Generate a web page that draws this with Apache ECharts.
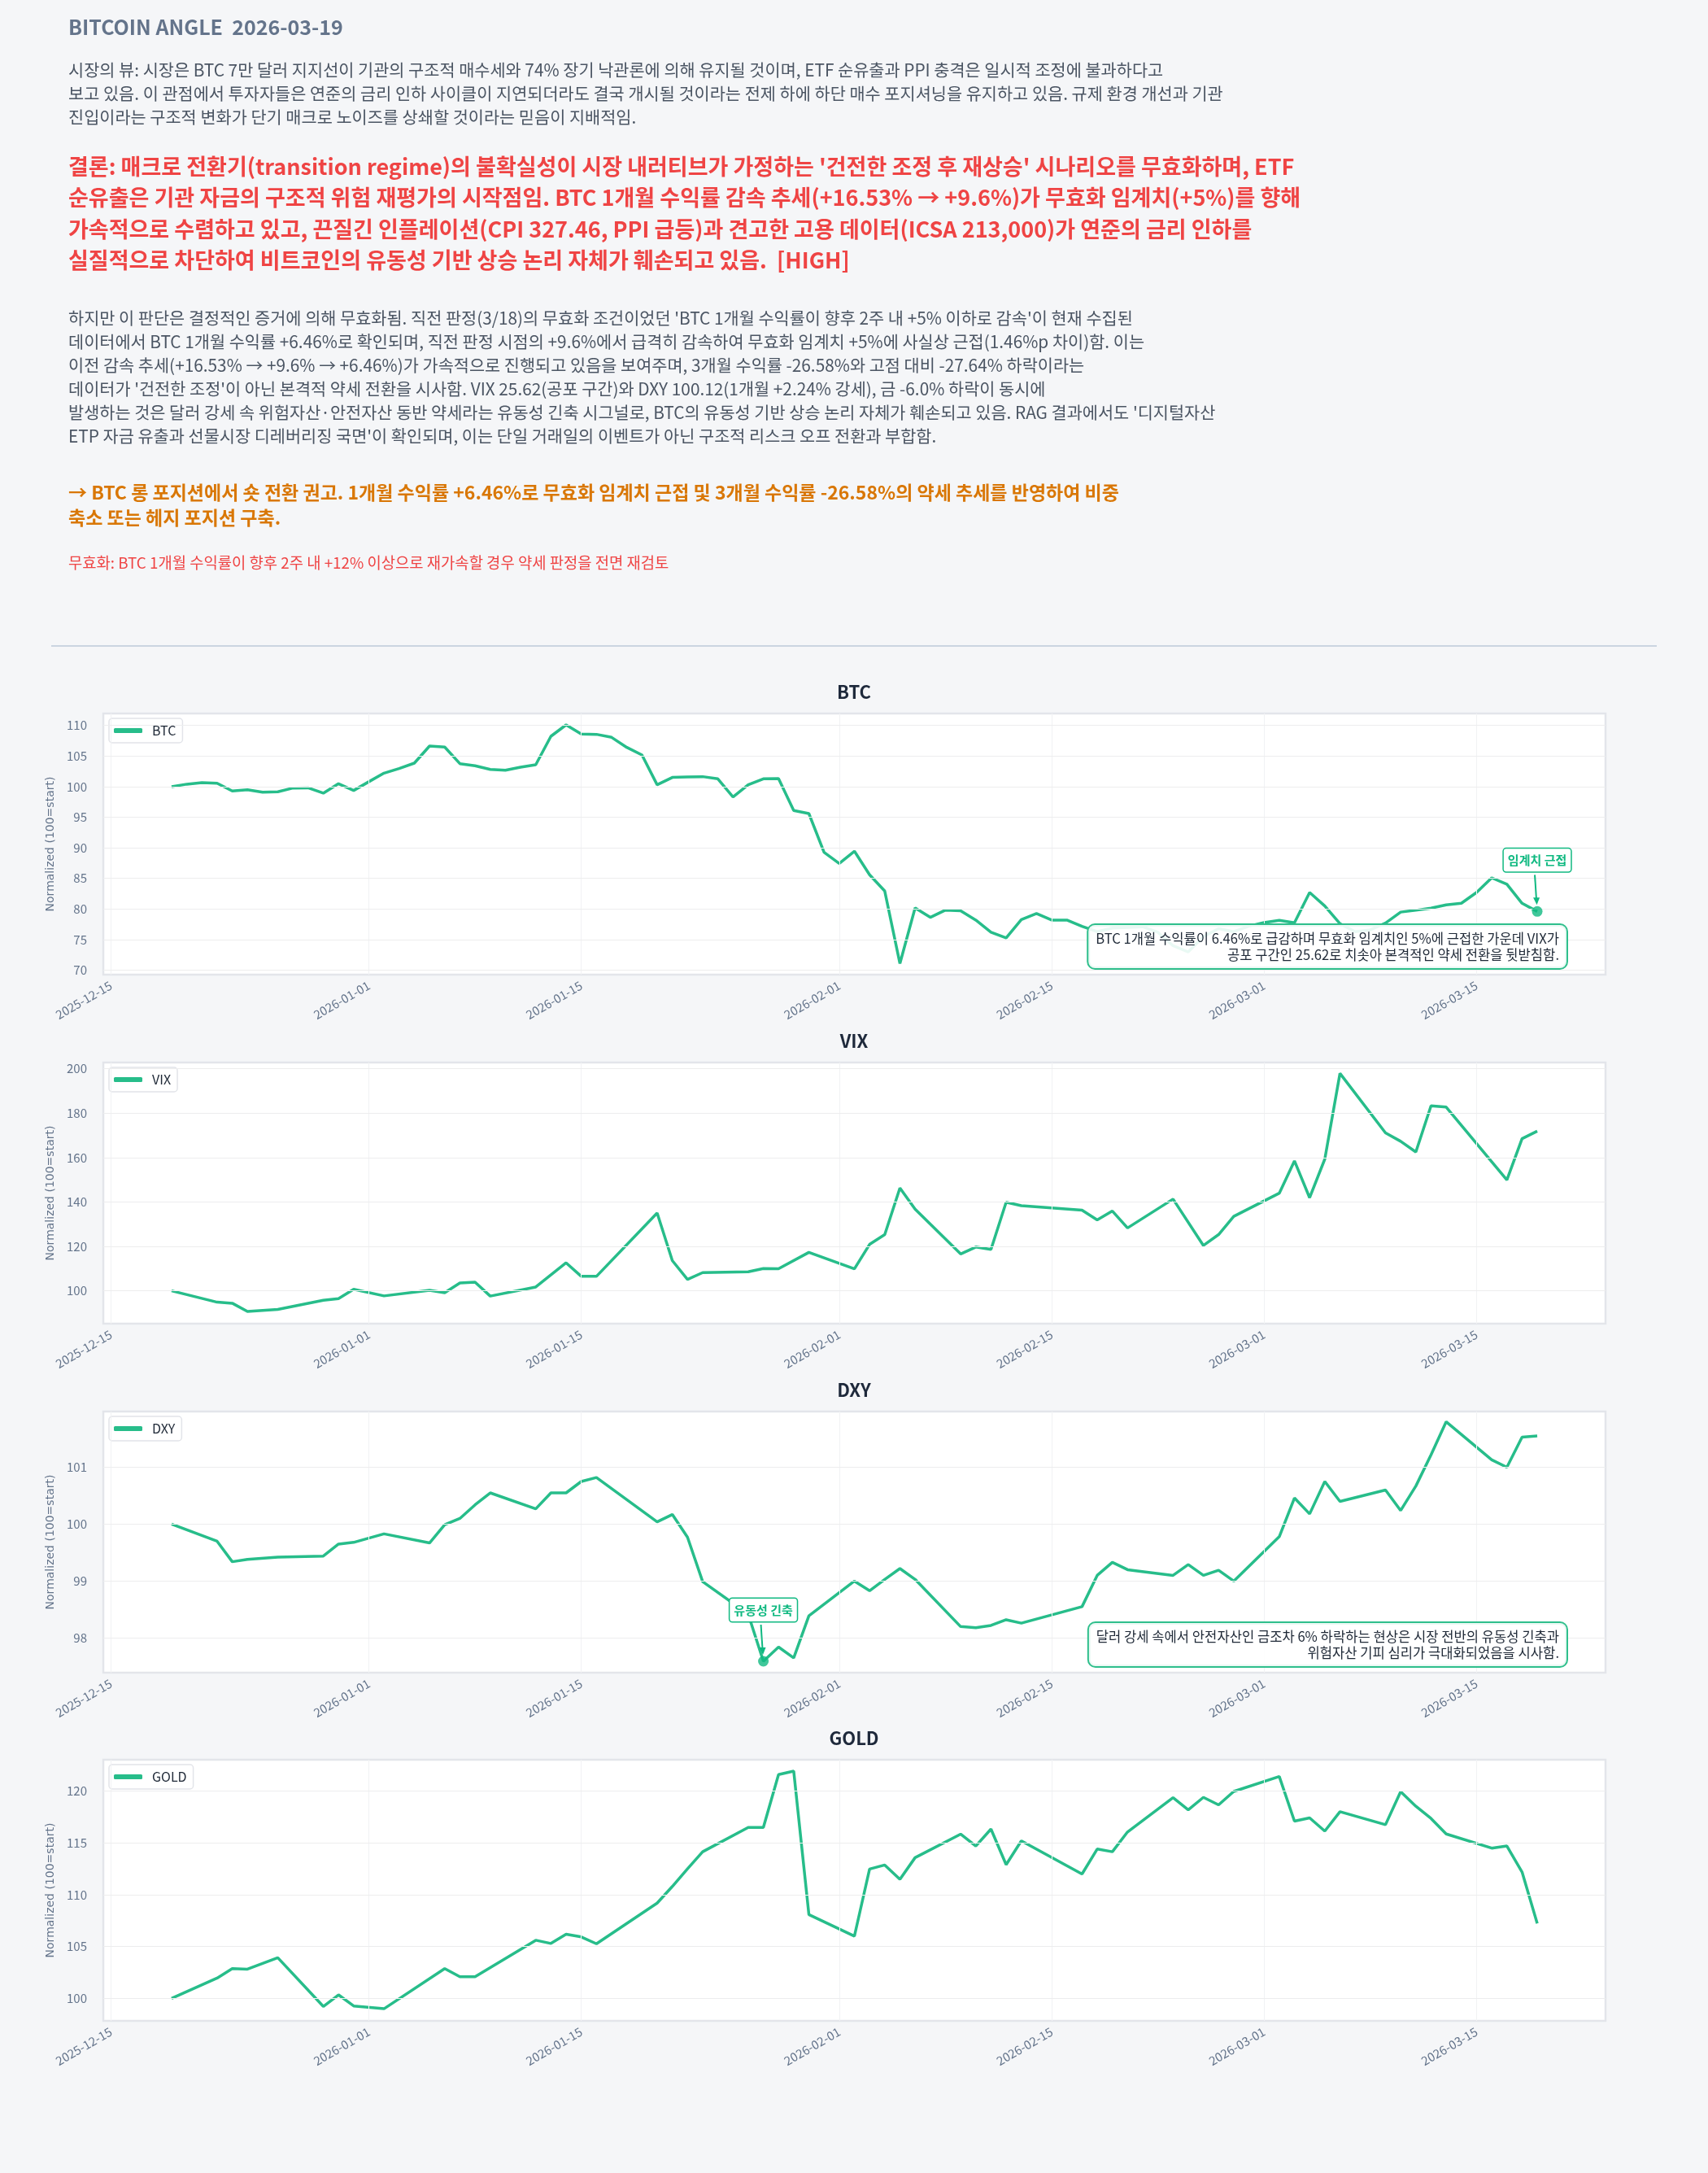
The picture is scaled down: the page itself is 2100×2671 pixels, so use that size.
<!DOCTYPE html>
<html>
<head>
<meta charset="utf-8"/>
<script src="https://cdn.jsdelivr.net/npm/echarts@6.0.0/dist/echarts.min.js"></script>
<style>
  html, body { margin: 0; padding: 0; background: #f5f6f8; }
  body { width: 2100px; height: 2671px; position: relative; overflow: hidden;
         font-family: 'Noto Sans CJK KR', 'Noto Sans', sans-serif; }
  #main { position: absolute; left: 0; top: 0; width: 2100px; height: 2671px; }
  .blk { position: absolute; left: 84px; white-space: nowrap; z-index: 2; }
  #title { top: 13px; font-size: 25px; line-height: 38px; font-weight: 700; color: #64748b; white-space: pre; }
  #view, #detail { font-size: 20.8px; line-height: 29px; color: #4b5563; }
  #view { top: 71px; }
  #concl { top: 185px; font-size: 27px; line-height: 38.4px; font-weight: 700; color: #ef4444; }
  #detail { top: 376px; }
  #action { top: 589px; font-size: 23px; line-height: 30.5px; font-weight: 700; color: #d97706; }
  #invalid { top: 678px; font-size: 18.8px; line-height: 26px; color: #ef4444; }
  #rule { position: absolute; left: 63px; top: 793px; width: 1974px; height: 2px; background: #cbd5e1; z-index: 2; }
</style>
</head>
<body>
<div id="main"></div>

<div class="blk" id="title">BITCOIN ANGLE  2026-03-19</div>
<div class="blk" id="view">
시장의 뷰: 시장은 BTC 7만 달러 지지선이 기관의 구조적 매수세와 74% 장기 낙관론에 의해 유지될 것이며, ETF 순유출과 PPI 충격은 일시적 조정에 불과하다고<br>
보고 있음. 이 관점에서 투자자들은 연준의 금리 인하 사이클이 지연되더라도 결국 개시될 것이라는 전제 하에 하단 매수 포지셔닝을 유지하고 있음. 규제 환경 개선과 기관<br>
진입이라는 구조적 변화가 단기 매크로 노이즈를 상쇄할 것이라는 믿음이 지배적임.
</div>
<div class="blk" id="concl">
결론: 매크로 전환기(transition regime)의 불확실성이 시장 내러티브가 가정하는 '건전한 조정 후 재상승' 시나리오를 무효화하며, ETF<br>
순유출은 기관 자금의 구조적 위험 재평가의 시작점임. BTC 1개월 수익률 감속 추세(+16.53% → +9.6%)가 무효화 임계치(+5%)를 향해<br>
가속적으로 수렴하고 있고, 끈질긴 인플레이션(CPI 327.46, PPI 급등)과 견고한 고용 데이터(ICSA 213,000)가 연준의 금리 인하를<br>
실질적으로 차단하여 비트코인의 유동성 기반 상승 논리 자체가 훼손되고 있음.&nbsp; [HIGH]
</div>
<div class="blk" id="detail">
하지만 이 판단은 결정적인 증거에 의해 무효화됨. 직전 판정(3/18)의 무효화 조건이었던 'BTC 1개월 수익률이 향후 2주 내 +5% 이하로 감속'이 현재 수집된<br>
데이터에서 BTC 1개월 수익률 +6.46%로 확인되며, 직전 판정 시점의 +9.6%에서 급격히 감속하여 무효화 임계치 +5%에 사실상 근접(1.46%p 차이)함. 이는<br>
이전 감속 추세(+16.53% → +9.6% → +6.46%)가 가속적으로 진행되고 있음을 보여주며, 3개월 수익률 -26.58%와 고점 대비 -27.64% 하락이라는<br>
데이터가 '건전한 조정'이 아닌 본격적 약세 전환을 시사함. VIX 25.62(공포 구간)와 DXY 100.12(1개월 +2.24% 강세), 금 -6.0% 하락이 동시에<br>
발생하는 것은 달러 강세 속 위험자산·안전자산 동반 약세라는 유동성 긴축 시그널로, BTC의 유동성 기반 상승 논리 자체가 훼손되고 있음. RAG 결과에서도 '디지털자산<br>
ETP 자금 유출과 선물시장 디레버리징 국면'이 확인되며, 이는 단일 거래일의 이벤트가 아닌 구조적 리스크 오프 전환과 부합함.
</div>
<div class="blk" id="action">
→ BTC 롱 포지션에서 숏 전환 권고. 1개월 수익률 +6.46%로 무효화 임계치 근접 및 3개월 수익률 -26.58%의 약세 추세를 반영하여 비중<br>
축소 또는 헤지 포지션 구축.
</div>
<div class="blk" id="invalid">무효화: BTC 1개월 수익률이 향후 2주 내 +12% 이상으로 재가속할 경우 약세 판정을 전면 재검토</div>
<div id="rule"></div>

<script type="text/javascript">
    // 데이터 (100 = 시작점 기준 정규화)
    var btcStart = '2025-12-19';   // BTC 는 매일 값
    var btc = [
        100.0, 100.4, 100.65, 100.56, 99.28, 99.5, 99.1, 99.15, 99.77, 99.8,
        98.93, 100.48, 99.37, 100.8, 102.2, 102.96, 103.84, 106.63, 106.46, 103.75,
        103.4, 102.82, 102.69, 103.18, 103.58, 108.23, 110.09, 108.58, 108.54, 108.05,
        106.41, 105.17, 100.3, 101.5, 101.58, 101.63, 101.27, 98.3, 100.3, 101.27,
        101.32, 96.09, 95.6, 89.27, 87.45, 89.45, 85.6, 82.93, 71.1, 80.19,
        78.64, 79.83, 79.7, 78.2, 76.2, 75.27, 78.28, 79.26, 78.2, 78.2,
        77.18, 76.3, 76.9, 77.0, 77.1, 76.2, 74.0, 73.0, 75.5, 76.8,
        76.3, 77.2, 77.8, 78.15, 77.75, 82.7, 80.5, 77.6, 76.3, 76.6,
        77.7, 79.5, 79.8, 80.14, 80.67, 80.94, 82.7, 85.1, 84.04, 80.94,
        79.6
    ];

    // VIX / DXY / GOLD 는 거래일 기준
    var tradDates = [
        '2025-12-19', '2025-12-22', '2025-12-23', '2025-12-24', '2025-12-26', '2025-12-29', '2025-12-30', '2025-12-31',
        '2026-01-02', '2026-01-05', '2026-01-06', '2026-01-07', '2026-01-08', '2026-01-09',
        '2026-01-12', '2026-01-13', '2026-01-14', '2026-01-15', '2026-01-16',
        '2026-01-20', '2026-01-21', '2026-01-22', '2026-01-23',
        '2026-01-26', '2026-01-27', '2026-01-28', '2026-01-29', '2026-01-30',
        '2026-02-02', '2026-02-03', '2026-02-04', '2026-02-05', '2026-02-06',
        '2026-02-09', '2026-02-10', '2026-02-11', '2026-02-12', '2026-02-13',
        '2026-02-17', '2026-02-18', '2026-02-19', '2026-02-20',
        '2026-02-23', '2026-02-24', '2026-02-25', '2026-02-26', '2026-02-27',
        '2026-03-02', '2026-03-03', '2026-03-04', '2026-03-05', '2026-03-06',
        '2026-03-09', '2026-03-10', '2026-03-11', '2026-03-12', '2026-03-13',
        '2026-03-16', '2026-03-17', '2026-03-18', '2026-03-19'
    ];
    var vix = [
        100.0, 94.87, 94.4, 90.7, 91.6, 95.7, 96.5, 100.7,
        97.7, 100.2, 99.1, 103.5, 103.9, 97.6,
        101.7, null, 112.6, 106.5, 106.5,
        135.0, 113.6, 105.1, 108.2,
        108.55, 110.0, 109.9, null, 117.3,
        109.9, 120.9, 125.3, 146.3, 136.8,
        116.6, 119.7, 118.6, 139.9, 138.3,
        136.3, 131.9, 135.9, 128.3,
        141.3, null, 120.4, 125.3, 133.5,
        143.95, 158.5, 141.9, 159.3, 197.9,
        171.1, 167.3, 162.5, 183.3, 182.7,
        null, 149.9, 168.5, 171.9
    ];
    var dxy = [
        100.0, 99.70, 99.34, 99.38, 99.42, 99.44, 99.65, 99.68,
        99.83, 99.67, 99.99, 100.10, 100.34, 100.55,
        100.27, 100.55, 100.55, 100.75, 100.82,
        100.04, 100.17, 99.77, 98.99,
        98.42, 97.59, 97.84, 97.65, 98.39,
        99.0, 98.83, 99.03, 99.22, 99.03,
        98.2, 98.18, 98.22, 98.32, 98.26,
        98.55, 99.10, 99.33, 99.20,
        99.10, 99.29, 99.10, 99.19, 99.0,
        99.78, 100.46, 100.18, 100.75, 100.40,
        100.60, 100.24, 100.67, 101.22, 101.80,
        101.13, 101.0, 101.53, 101.55
    ];
    var gold = [
        100.0, 101.96, 102.87, 102.82, 103.92, 99.22, 100.34, 99.27,
        99.0, null, 102.87, 102.09, 102.09, null,
        105.61, 105.3, 106.19, 105.93, 105.27,
        109.19, 110.8, 112.5, 114.15,
        116.5, 116.5, 121.6, 121.93, 108.09,
        106.0, 112.48, 112.87, 111.49, 113.58,
        115.85, 114.7, 116.34, 112.9, 115.2,
        112.0, 114.41, 114.15, 116.06,
        119.37, 118.2, 119.4, 118.67, 119.97,
        121.41, 117.1, 117.42, 116.14, 118.02,
        116.76, 119.95, 118.54, 117.36, 115.87,
        114.5, 114.7, 112.19, 107.23
    ];

    var xTickLabels = ['2025-12-15', '2026-01-01', '2026-01-15', '2026-02-01', '2026-02-15', '2026-03-01', '2026-03-15'];
    var btcTicks = [70, 75, 80, 85, 90, 95, 100, 105, 110];
    var vixTicks = [100, 120, 140, 160, 180, 200];
    var dxyTicks = [98, 99, 100, 101];
    var goldTicks = [100, 105, 110, 115, 120];

    var btcNote = 'BTC 1개월 수익률이 6.46%로 급감하며 무효화 임계치인 5%에 근접한 가운데 VIX가\n공포 구간인 25.62로 치솟아 본격적인 약세 전환을 뒷받침함.';
    var dxyNote = '달러 강세 속에서 안전자산인 금조차 6% 하락하는 현상은 시장 전반의 유동성 긴축과\n위험자산 기피 심리가 극대화되었음을 시사함.';

    var DAY = 86400000;
    var GREEN = '#27bd8a';
    var MARK = '#10b981';
    var FONT = "'Noto Sans CJK KR', 'Noto Sans', sans-serif";

    function ts(s) {
        return Date.UTC(+s.slice(0, 4), +s.slice(5, 7) - 1, +s.slice(8, 10));
    }
    function pad(n) { return n < 10 ? '0' + n : '' + n; }
    function fmtDate(v) {
        var d = new Date(v);
        return d.getUTCFullYear() + '-' + pad(d.getUTCMonth() + 1) + '-' + pad(d.getUTCDate());
    }

    var btcData = btc.map(function (v, i) { return [ts(btcStart) + i * DAY, v]; });
    function tradSeries(arr) {
        return tradDates.map(function (d, i) { return [ts(d), arr[i]]; });
    }

    var panels = [
        { name: 'BTC', data: btcData, min: 69.28, max: 111.95, ticks: btcTicks },
        { name: 'VIX', data: tradSeries(vix), min: 85.2, max: 202.8, ticks: vixTicks },
        { name: 'DXY', data: tradSeries(dxy), min: 97.39, max: 101.98, ticks: dxyTicks },
        { name: 'GOLD', data: tradSeries(gold), min: 97.83, max: 123.03, ticks: goldTicks }
    ];

    var gridTops = [877, 1306, 1735, 2163];
    var gridH = 321, gridL = 127, gridR = 126;
    var xTicks = xTickLabels.map(ts);
    var xMin = ts('2025-12-14') + DAY / 2;
    var xMax = ts('2026-03-23') + DAY / 2;

    var myChart = echarts.init(document.getElementById('main'), null, { renderer: 'canvas' });

    var option = {
        animation: false,
        backgroundColor: 'transparent',
        title: [], legend: [], grid: [], xAxis: [], yAxis: [], series: []
    };

    panels.forEach(function (p, i) {
        option.title.push({
            text: p.name, left: 'center', top: gridTops[i] - 37, padding: 0,
            textStyle: { fontSize: 22, fontWeight: 'bold', color: '#1e293b', fontFamily: FONT }
        });
        option.grid.push({
            left: gridL, right: gridR, top: gridTops[i], height: gridH,
            show: true, backgroundColor: '#ffffff', borderColor: '#e3e5ea', borderWidth: 2.5
        });
        option.legend.push({
            data: [p.name], left: gridL + 7, top: gridTops[i] + 6,
            backgroundColor: '#ffffff', borderColor: '#e2e4e9', borderWidth: 1.5, borderRadius: 4,
            padding: [7, 8, 7, 6], icon: 'roundRect', itemWidth: 35, itemHeight: 6,
            textStyle: { fontSize: 16, color: '#1f2937', fontFamily: FONT, padding: [0, 0, 0, 7] }
        });
        // x 축은 날짜(ms) 값 축
        option.xAxis.push({
            type: 'value', gridIndex: i, min: xMin, max: xMax,
            axisLine: { show: false }, axisTick: { show: false, customValues: xTicks },
            splitLine: { show: false },
            axisLabel: {
                customValues: xTicks, rotate: 30, margin: 12, fontSize: 15,
                color: '#64748b', fontFamily: FONT, formatter: fmtDate
            }
        });
        option.yAxis.push({
            type: 'value', gridIndex: i, min: p.min, max: p.max,
            name: 'Normalized (100=start)', nameLocation: 'middle', nameGap: 58,
            nameTextStyle: { fontFamily: 'DejaVu Sans', fontSize: 14, color: '#64748b' },
            axisLine: { show: false }, axisTick: { show: false, customValues: p.ticks },
            splitLine: { show: false },
            axisLabel: { customValues: p.ticks, margin: 20, fontSize: 15, color: '#64748b', fontFamily: FONT }
        });
        // 격자선
        var gl = xTicks.map(function (t) {
            return { xAxis: t, lineStyle: { color: '#f1f2f4', width: 1, type: 'solid' } };
        }).concat(p.ticks.map(function (v) {
            return { yAxis: v, lineStyle: { color: '#ededee', width: 1.2, type: 'solid' } };
        }));
        option.series.push({
            type: 'line', name: '_grid' + i, xAxisIndex: i, yAxisIndex: i, data: [], z: 1, silent: true,
            markLine: { silent: true, symbol: ['none', 'none'], label: { show: false }, animation: false, data: gl }
        });
        option.series.push({
            type: 'line', name: p.name, xAxisIndex: i, yAxisIndex: i, data: p.data, z: 3,
            showSymbol: false, symbol: 'none', connectNulls: true,
            lineStyle: { color: GREEN, width: 3.5 }, itemStyle: { color: GREEN }
        });
    });

    // 강조 지점: BTC 마지막 값, DXY 최저점
    var btcLast = btcData[btcData.length - 1];
    var dxySer = panels[2].data;
    var dxyMin = dxySer[0];
    dxySer.forEach(function (d) { if (d[1] !== null && d[1] < dxyMin[1]) dxyMin = d; });

    var marks = [
        { panel: 0, pt: btcLast, text: '임계치 근접', note: btcNote },
        { panel: 2, pt: dxyMin, text: '유동성 긴축', note: dxyNote }
    ];
    marks.forEach(function (m) {
        option.series.push({
            type: 'scatter', xAxisIndex: m.panel, yAxisIndex: m.panel, data: [m.pt],
            symbolSize: 13, itemStyle: { color: MARK }, z: 5, silent: true
        });
    });

    myChart.setOption(option);

    // 주석 (라벨, 화살표, 설명 박스)
    var graphics = [];
    marks.forEach(function (m) {
        var px = myChart.convertToPixel({ xAxisIndex: m.panel, yAxisIndex: m.panel }, m.pt);
        var ly = px[1] - 63;
        graphics.push({
            type: 'text', x: px[0], y: ly, z: 20,
            style: {
                text: m.text, align: 'center', verticalAlign: 'middle',
                font: 'bold 15px ' + FONT, fill: MARK, lineHeight: 18,
                backgroundColor: '#ffffff', borderColor: MARK, borderWidth: 1.5, borderRadius: 3,
                padding: [5, 5, 5, 5]
            }
        });
        graphics.push({
            type: 'line', z: 20,
            shape: { x1: px[0] - 3, y1: ly + 18, x2: px[0] - 1, y2: px[1] - 14 },
            style: { stroke: MARK, lineWidth: 2 }
        });
        graphics.push({
            type: 'polygon', z: 20,
            shape: { points: [[px[0] - 5, px[1] - 17], [px[0] + 3, px[1] - 17], [px[0] - 0.5, px[1] - 8]] },
            style: { fill: MARK }
        });
        var gBottom = gridTops[m.panel] + gridH;
        graphics.push({
            type: 'text', x: 2100 - gridR - 48, y: gBottom - 8, z: 20,
            style: {
                text: m.note, align: 'right', verticalAlign: 'bottom',
                font: '16.6px ' + FONT, fill: '#1f2937', lineHeight: 20.5,
                backgroundColor: 'rgba(255,255,255,0.9)', borderColor: '#2fbf8c', borderWidth: 2,
                borderRadius: 8, padding: [6, 9, 6, 9]
            }
        });
    });
    myChart.setOption({ graphic: graphics });
</script>
</body>
</html>
